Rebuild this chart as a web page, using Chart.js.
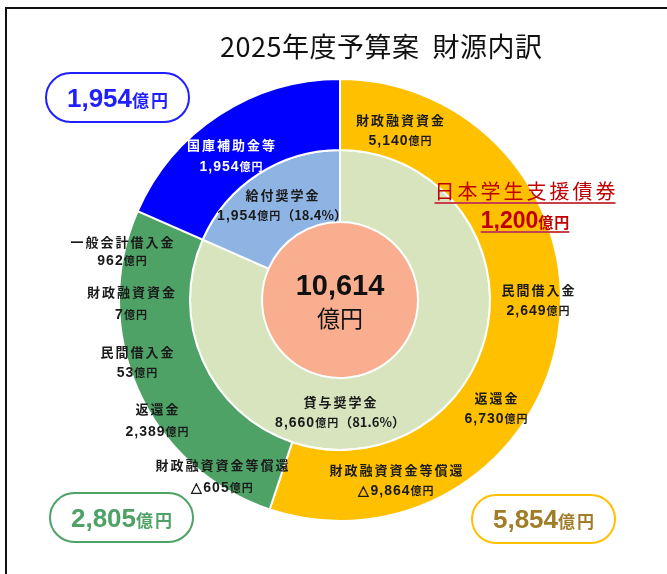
<!DOCTYPE html>
<html>
<head>
<meta charset="utf-8">
<script src="https://cdn.jsdelivr.net/npm/chart.js@4/dist/chart.umd.min.js"></script>
<style>
  html, body { margin: 0; padding: 0; background: #fff; }
</style>
</head>
<body>
<canvas id="chart-zaigen" width="667" height="574"></canvas>
<script>
// 外側リング: 財源の区分
const sourceGroups = ['財政融資資金等', '一般会計借入金等', '国庫補助金等'];
const sourceTotals = [5854, 2805, 1954];
const sourceColors = ['#FFC000', '#4EA266', '#0000FF'];

// 内側リング: 奨学金の種類
const schemeNames  = ['貸与奨学金', '給付奨学金'];
const schemeValues = [8660, 1954];
const schemeShares = [81.6, 18.4];
const schemeColors = ['#D7E4BD', '#8EB4E3'];

const grandTotal = 10614;

// 内訳（△ = マイナス）
const yellowItems  = ['財政融資資金', '日本学生支援債券', '民間借入金', '返還金', '財政融資資金等償還'];
const yellowValues = [5140, 1200, 2649, 6730, -9864];
const greenItems   = ['一般会計借入金', '財政融資資金', '民間借入金', '返還金', '財政融資資金等償還'];
const greenValues  = [962, 7, 53, 2389, -605];
const blueItems    = ['国庫補助金等'];
const blueValues   = [1954];

const JP  = '"Noto Sans CJK JP", "Noto Sans", sans-serif';
const NUM = '"Liberation Sans", Arial, sans-serif';

const fmt = v => (v < 0 ? '△' : '') + Math.abs(v).toLocaleString('en-US');

// label placement, offsets from the chart centre (x, baseline1, baseline2)
const yellowPos = [[60, -175, -155], [185, -101, -72], [198, -5, 15], [156, 103, 123], [56, 175, 195]];
const greenPos  = [[-218, -53, -35], [-209, -3, 19], [-203, 57, 77], [-183, 114, 136], [-118, 170, 192]];
const bluePos   = [[-109, -150, -129]];

function drawRuns(ctx, parts, cx, y) {
  let w = 0;
  parts.forEach(p => {
    ctx.font = p.font;
    ctx.letterSpacing = (p.ls || 0) + 'px';
    p.w = ctx.measureText(p.t).width;
    w += p.w;
  });
  const last = parts[parts.length - 1];
  w -= (last.ls || 0);
  let x = cx - w / 2;
  parts.forEach(p => {
    ctx.font = p.font;
    ctx.letterSpacing = (p.ls || 0) + 'px';
    ctx.fillStyle = p.color;
    ctx.fillText(p.t, x, y);
    x += p.w;
  });
  ctx.letterSpacing = '0px';
  return [cx - w / 2, cx + w / 2];
}

function itemLabel(ctx, name, value, cx, y1, y2, color) {
  drawRuns(ctx, [{ t: name, font: `bold 13px ${JP}`, color, ls: 2 }], cx, y1);
  drawRuns(ctx, [
    { t: fmt(value), font: `bold 14px ${NUM}`, color, ls: 1 },
    { t: '億円', font: `bold 11px ${JP}`, color, ls: 1 },
  ], cx, y2);
}

function pill(ctx, x, y, w, h, value, stroke, textColor) {
  ctx.beginPath();
  ctx.roundRect(x, y, w, h, h / 2);
  ctx.lineWidth = 2;
  ctx.strokeStyle = stroke;
  ctx.stroke();
  drawRuns(ctx, [
    { t: fmt(value), font: `bold 26px ${NUM}`, color: textColor },
    { t: '億円', font: `bold 17px ${JP}`, color: textColor, ls: 2 },
  ], x + w / 2, y + h / 2 + 9);
}

const decorPlugin = {
  id: 'decor',
  beforeDraw(chart) {
    const ctx = chart.ctx;
    ctx.save();
    ctx.strokeStyle = '#111';
    ctx.lineWidth = 2;
    ctx.beginPath();
    ctx.moveTo(6, 600);
    ctx.lineTo(6, 8);
    ctx.lineTo(680, 8);
    ctx.stroke();
    ctx.textBaseline = 'alphabetic';
    drawRuns(ctx, [{ t: '2025年度予算案  財源内訳', font: `27px ${JP}`, color: '#111', ls: 0.5 }], 381, 57);
    ctx.restore();
  },
  afterDraw(chart) {
    const ctx = chart.ctx;
    const arc = chart.getDatasetMeta(0).data[0];
    const cx = arc.x, cy = arc.y;
    ctx.save();
    ctx.textBaseline = 'alphabetic';

    yellowItems.forEach((n, i) => {
      const [dx, b1, b2] = yellowPos[i];
      if (n === '日本学生支援債券') {
        const red = '#C00000';
        const r1 = drawRuns(ctx, [{ t: n, font: `20px ${JP}`, color: red, ls: 3 }], cx + dx, cy + b1);
        const r2 = drawRuns(ctx, [
          { t: fmt(yellowValues[i]), font: `bold 23px ${NUM}`, color: red },
          { t: '億円', font: `bold 15px ${JP}`, color: red, ls: 1 },
        ], cx + dx, cy + b2);
        ctx.fillStyle = '#C8404A';
        ctx.fillRect(r1[0], cy + b1 + 3, r1[1] - r1[0], 2);
        ctx.fillRect(r2[0], cy + b2 + 3, r2[1] - r2[0], 2);
      } else {
        itemLabel(ctx, n, yellowValues[i], cx + dx, cy + b1, cy + b2, '#1a1a1a');
      }
    });
    greenItems.forEach((n, i) => {
      const [dx, b1, b2] = greenPos[i];
      itemLabel(ctx, n, greenValues[i], cx + dx, cy + b1, cy + b2, '#1a1a1a');
    });
    blueItems.forEach((n, i) => {
      const [dx, b1, b2] = bluePos[i];
      itemLabel(ctx, n, blueValues[i], cx + dx, cy + b1, cy + b2, '#ffffff');
    });

    // 内側リングのラベル
    const schemePos = [[0, 107, 127], [-58, -100, -80]];
    schemeNames.forEach((n, i) => {
      const [dx, b1, b2] = schemePos[i];
      drawRuns(ctx, [{ t: n, font: `bold 13px ${JP}`, color: '#1a1a1a', ls: 2 }], cx + dx, cy + b1);
      drawRuns(ctx, [
        { t: fmt(schemeValues[i]), font: `bold 14px ${NUM}`, color: '#1a1a1a', ls: 1 },
        { t: '億円', font: `bold 11px ${JP}`, color: '#1a1a1a', ls: 1 },
        { t: `（${schemeShares[i]}%）`, font: `bold 13px ${JP}`, color: '#1a1a1a' },
      ], cx + dx, cy + b2);
    });

    // 中央
    drawRuns(ctx, [{ t: fmt(grandTotal), font: `bold 29px ${NUM}`, color: '#111' }], cx, cy - 5);
    drawRuns(ctx, [{ t: '億円', font: `23px ${JP}`, color: '#111' }], cx, cy + 27);

    // 区分ごとの合計
    pill(ctx, 46, 73, 143, 49, sourceTotals[2], '#1F1FFF', '#1F1FFF');
    pill(ctx, 50, 493, 143, 49, sourceTotals[1], '#4EA266', '#4EA266');
    pill(ctx, 472, 495, 143, 48, sourceTotals[0], '#FFC000', '#A07E28');
    ctx.restore();
  },
};

new Chart(document.getElementById('chart-zaigen'), {
  type: 'doughnut',
  data: {
    labels: sourceGroups,
    datasets: [
      {
        data: sourceTotals,
        backgroundColor: sourceColors,
        weight: 71,
      },
      {
        data: schemeValues,
        backgroundColor: schemeColors,
        weight: 72,
      },
      {
        data: [grandTotal],
        backgroundColor: ['#F9AE90'],
        borderWidth: 0,
        hoverBorderWidth: 0,
        weight: 78,
      },
    ],
  },
  options: {
    responsive: false,
    animation: false,
    events: [],
    cutout: 0,
    layout: { padding: { left: 118, right: 105, top: 78, bottom: 52 } },
    elements: {
      arc: { borderColor: '#ffffff', borderWidth: 2, hoverBorderWidth: 2, offset: 0, hoverOffset: 0 },
    },
    plugins: {
      legend: { display: false },
      tooltip: { enabled: false },
      title: { display: false },
    },
  },
  plugins: [decorPlugin],
});
</script>
</body>
</html>
